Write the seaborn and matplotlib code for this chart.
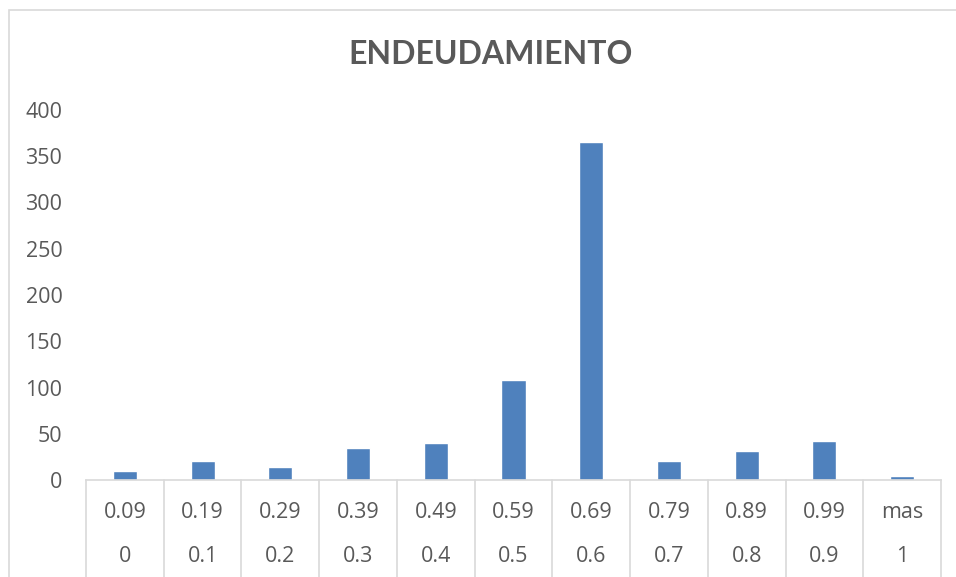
import matplotlib
matplotlib.use("Agg")
import matplotlib.pyplot as plt
import matplotlib.transforms as mtransforms
from matplotlib.patches import Rectangle
import seaborn as sns
import pandas as pd

# histogram bins: upper limit (row 1) and lower limit (row 2)
upper_labels = ["0.09", "0.19", "0.29", "0.39", "0.49", "0.59", "0.69", "0.79", "0.89", "0.99", "mas"]
lower_labels = ["0", "0.1", "0.2", "0.3", "0.4", "0.5", "0.6", "0.7", "0.8", "0.9", "1"]
counts = [10, 21, 14, 35, 40, 108, 365, 21, 31, 42, 4]

sns.set_theme(style="white")
plt.rcParams['font.family'] = ['Open Sans', 'DejaVu Sans']

text_col = "#595959"
line_col = "#d9d9d9"
bar_col = "#4f81bd"

df = pd.DataFrame({"bin": upper_labels, "count": counts})

fig = plt.figure(figsize=(9.56, 5.77), dpi=100)
ax = fig.add_axes([86 / 956, 1 - 480 / 577, (941 - 86) / 956, (480 - 110) / 577])

sns.barplot(data=df, x="bin", y="count", color=bar_col, saturation=1,
            width=0.31, ax=ax)

ax.set_ylim(0, 400)
ax.set_xlim(-0.5, len(counts) - 0.5)
ax.set_yticks(range(0, 401, 50))
ax.tick_params(axis="y", labelsize=15.5, labelcolor=text_col, length=0, pad=17)
ax.set_xticks([])
ax.set_xlabel("")
ax.set_ylabel("")
for s in ["top", "right", "left"]:
    ax.spines[s].set_visible(False)
ax.spines["bottom"].set_color(line_col)
ax.spines["bottom"].set_linewidth(1.2)

# two-level category axis
trans = mtransforms.blended_transform_factory(ax.transData, ax.transAxes)
for i, (u, l) in enumerate(zip(upper_labels, lower_labels)):
    ax.text(i, -0.087, u, transform=trans, ha="center", va="center",
            fontsize=15.5, color=text_col)
    ax.text(i, -0.208, l, transform=trans, ha="center", va="center",
            fontsize=15.5, color=text_col)
for i in range(len(counts) + 1):
    ax.plot([i - 0.5, i - 0.5], [0, -0.3], transform=trans, color=line_col,
            lw=1.2, clip_on=False)

fig.text(0.513, 0.905, "ENDEUDAMIENTO", ha="center", va="center",
         fontsize=23, fontweight="bold", color=text_col, family="Lato")

# chart area border (cut off at right and bottom)
fig.add_artist(Rectangle((9 / 956, -0.1), 1.2, 1 - 10 / 577 + 0.1,
                         transform=fig.transFigure, fill=False,
                         edgecolor=line_col, lw=1.2))

fig.savefig("out.png", dpi=100)
